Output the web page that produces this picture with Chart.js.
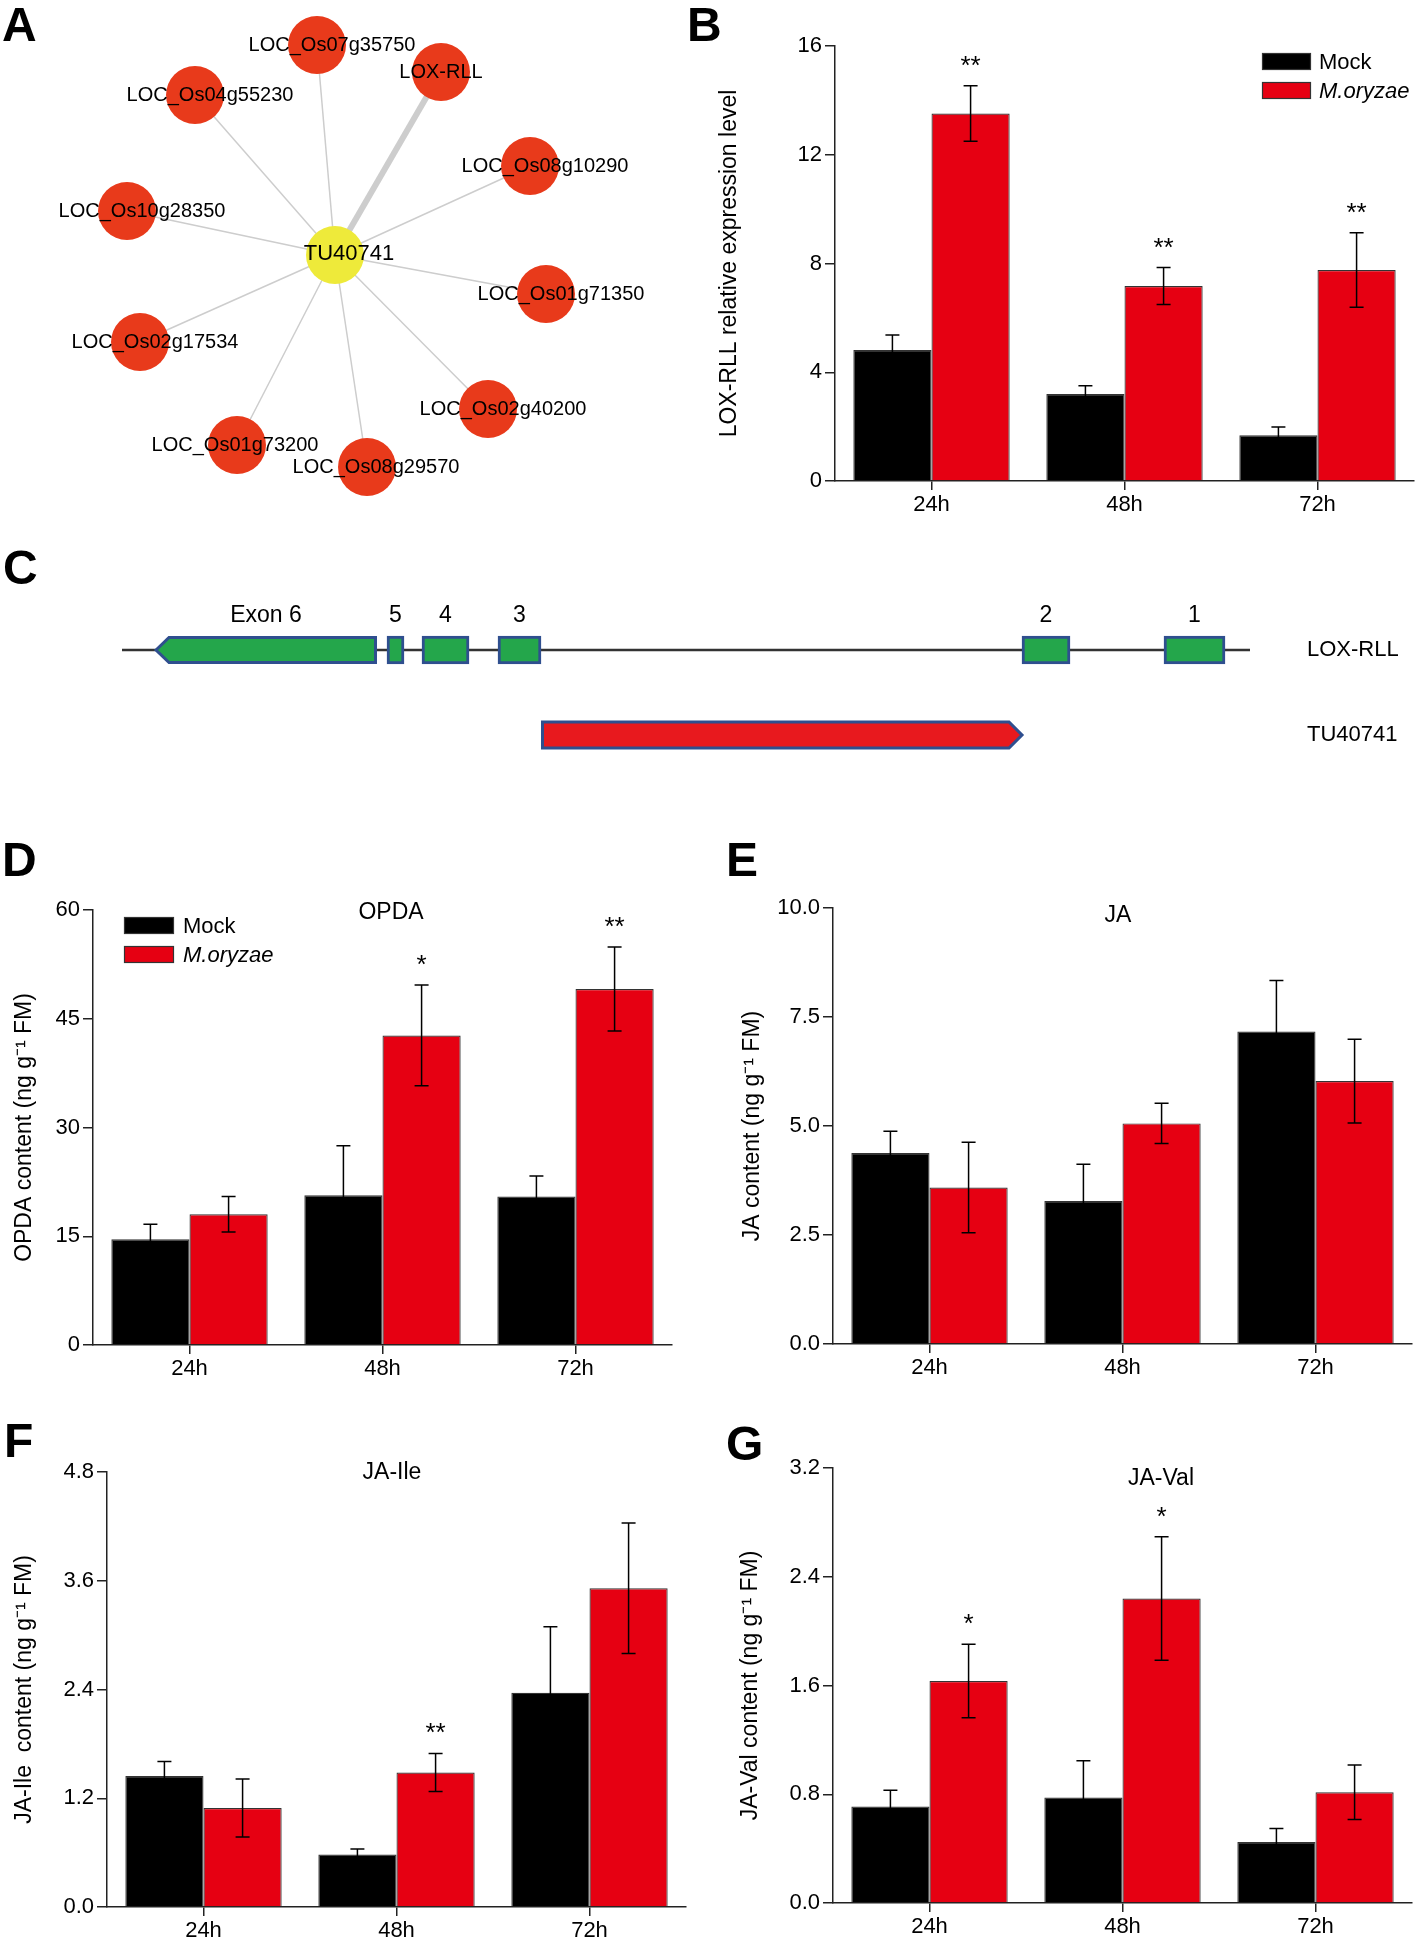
<!DOCTYPE html>
<html><head><meta charset="utf-8">
<script src="https://cdn.jsdelivr.net/npm/chart.js@4.4.0/dist/chart.umd.min.js"></script>
<style>
html,body{margin:0;padding:0;background:#fff;}
#page{position:relative;width:1418px;height:1940px;overflow:hidden;background:#fff;}
canvas{position:absolute;}
.tag{position:absolute;font-family:'Liberation Sans',Arial,sans-serif;font-weight:bold;font-size:48px;line-height:48px;color:#000;}
</style></head><body><div id="page">
<canvas id="cA"></canvas>
<canvas id="cB"></canvas>
<canvas id="cC"></canvas>
<canvas id="cD"></canvas>
<canvas id="cE"></canvas>
<canvas id="cF"></canvas>
<canvas id="cG"></canvas>
<div class="tag" style="left:2px;top:1px">A</div>
<div class="tag" style="left:687px;top:1px">B</div>
<div class="tag" style="left:3px;top:544px">C</div>
<div class="tag" style="left:2px;top:836px">D</div>
<div class="tag" style="left:726px;top:836px">E</div>
<div class="tag" style="left:4px;top:1417px">F</div>
<div class="tag" style="left:726px;top:1420px">G</div>
</div>
<script>
// ---------------- DATA ----------------
// Panel A: co-expression network (layout coordinates)
const hubName = 'TU40741';
const hubX = 335, hubY = 255;
const nodeNames = ['LOC_Os07g35750','LOX-RLL','LOC_Os04g55230','LOC_Os08g10290','LOC_Os10g28350','LOC_Os01g71350','LOC_Os02g17534','LOC_Os02g40200','LOC_Os01g73200','LOC_Os08g29570'];
const nodeX = [317, 441, 195, 530, 127, 546, 140, 488, 237, 367];
const nodeY = [45, 72, 95, 166, 211, 294, 342, 409, 445, 467];
const edgeWeight = [1, 4, 1, 1, 1, 1, 1, 1, 1, 1];

// Panel C: gene structure (relative genomic units)
const geneRows = ['LOX-RLL', 'TU40741'];
const locusSpan = [0, 1128];
const exonNames = ['Exon 6', '5', '4', '3', '2', '1'];
const exonStart = [33, 265, 300, 376, 900, 1042];
const exonEnd   = [255, 282, 347, 419, 948, 1103];
const lncRange  = [419, 901];

// Bar panels
const timepoints = ['24h', '48h', '72h'];
const seriesNames = ['Mock', 'M.oryzae'];

const loxMock = [4.82, 3.20, 1.68];
const loxMockErr = [0.55, 0.30, 0.31];
const loxMo = [13.52, 7.17, 7.76];
const loxMoErr = [1.02, 0.68, 1.37];
const loxSig = ['**', '**', '**'];
const loxTicks = [0, 4, 8, 12, 16];

const opdaMock = [14.57, 20.65, 20.5];
const opdaMockErr = [2.1, 6.85, 2.8];
const opdaMo = [18.03, 42.7, 49.1];
const opdaMoErr = [2.45, 6.95, 5.8];
const opdaSig = ['', '*', '**'];
const opdaTicks = [0, 15, 30, 45, 60];

const jaMock = [4.38, 3.28, 7.17];
const jaMockErr = [0.5, 0.84, 1.17];
const jaMo = [3.59, 5.06, 6.03];
const jaMoErr = [1.04, 0.46, 0.96];
const jaSig = ['', '', ''];
const jaTicks = [0, 2.5, 5, 7.5, 10];

const ileMock = [1.446, 0.579, 2.363];
const ileMockErr = [0.16, 0.06, 0.73];
const ileMo = [1.093, 1.484, 3.516];
const ileMoErr = [0.32, 0.21, 0.72];
const ileSig = ['', '**', ''];
const ileTicks = [0, 1.2, 2.4, 3.6, 4.8];

const valMock = [0.709, 0.777, 0.448];
const valMockErr = [0.12, 0.27, 0.10];
const valMo = [1.633, 2.24, 0.815];
const valMoErr = [0.27, 0.455, 0.2];
const valSig = ['*', '*', ''];
const valTicks = [0, 0.8, 1.6, 2.4, 3.2];

// ---------------- STYLE / HELPERS ----------------
const FONT = "'Liberation Sans', Arial, Helvetica, sans-serif";
Chart.defaults.font.family = FONT;
Chart.defaults.color = '#000';
const RED = '#E60012', BLACK = '#000000';

function place(id, x, y, w, h) {
  const c = document.getElementById(id);
  c.width = w; c.height = h;
  c.style.left = x + 'px'; c.style.top = y + 'px';
  return c;
}

// ---------- Panel A ----------
const netLabels = {
  id: 'netLabels',
  afterDatasetsDraw(chart, args, opts) {
    const {ctx, scales: {x, y}} = chart;
    ctx.save();
    ctx.fillStyle = '#000'; ctx.textAlign = 'center'; ctx.textBaseline = 'middle';
    ctx.font = '20px ' + FONT;
    nodeNames.forEach((n, i) => {
      const dx = (n in opts.dx) ? opts.dx[n] : opts.defaultDx;
      ctx.fillText(n, x.getPixelForValue(nodeX[i]) + dx, y.getPixelForValue(nodeY[i]));
    });
    ctx.font = '22px ' + FONT;
    ctx.fillText(hubName, x.getPixelForValue(hubX) + 14, y.getPixelForValue(hubY) - 1);
    ctx.restore();
  }
};
(function () {
  const c = place('cA', 0, 0, 700, 520);
  const edges = nodeNames.map((n, i) => ({
    label: 'edge ' + n, type: 'line', showLine: true,
    data: [{x: hubX, y: hubY}, {x: nodeX[i], y: nodeY[i]}],
    borderColor: '#cdcdcd', borderWidth: 1.5 * edgeWeight[i], pointRadius: 0, order: 3, clip: false
  }));
  new Chart(c, {
    type: 'scatter',
    data: {datasets: [
      {label: 'hub', data: [{x: hubX, y: hubY}], pointRadius: 29, backgroundColor: '#EEEA3A', borderWidth: 0, pointBorderWidth: 0, order: 0, clip: false},
      {label: 'genes', data: nodeX.map((x, i) => ({x, y: nodeY[i]})), pointRadius: 29, backgroundColor: '#E83A1B', borderWidth: 0, pointBorderWidth: 0, order: 1, clip: false},
      ...edges
    ]},
    options: {
      responsive: false, animation: false, devicePixelRatio: 1, events: [],
      layout: {padding: 0, autoPadding: false},
      plugins: {legend: {display: false}, tooltip: {enabled: false},
        netLabels: {defaultDx: 15, dx: {'LOX-RLL': 0, 'LOC_Os01g73200': -2, 'LOC_Os08g29570': 9}}},
      scales: {
        x: {type: 'linear', min: 0, max: 700, display: false},
        y: {type: 'linear', min: 0, max: 520, reverse: true, display: false}
      }
    },
    plugins: [netLabels]
  });
})();

// ---------- Panel C ----------
const genePlugin = {
  id: 'gene',
  afterDatasetsDraw(chart, args, opts) {
    const ctx = chart.ctx;
    chart.data.datasets.forEach((ds, di) => {
      const meta = chart.getDatasetMeta(di);
      meta.data.forEach((el, j) => {
        if (ds.data[j] == null) return;
        const p = el.getProps(['x', 'y', 'base', 'height'], true);
        const x0 = Math.min(p.x, p.base), x1 = Math.max(p.x, p.base);
        const yc = p.y, h = p.height / 2 - 1.5;
        if (ds.arrow) {
          const t = opts.tip;
          ctx.save();
          ctx.beginPath();
          if (ds.arrow === 'left') {
            ctx.moveTo(x0 + 1, yc); ctx.lineTo(x0 + t, yc - h); ctx.lineTo(x1 - 1.5, yc - h);
            ctx.lineTo(x1 - 1.5, yc + h); ctx.lineTo(x0 + t, yc + h);
          } else {
            ctx.moveTo(x0 + 1.5, yc - h); ctx.lineTo(x1 - t, yc - h); ctx.lineTo(x1 - 1, yc);
            ctx.lineTo(x1 - t, yc + h); ctx.lineTo(x0 + 1.5, yc + h);
          }
          ctx.closePath();
          ctx.fillStyle = ds.shapeFill; ctx.fill();
          ctx.lineWidth = 3; ctx.strokeStyle = ds.shapeEdge; ctx.lineJoin = 'miter'; ctx.stroke();
          ctx.restore();
        }
        if (ds.tag) {
          ctx.save();
          ctx.fillStyle = '#000'; ctx.font = '23px ' + FONT; ctx.textAlign = 'center'; ctx.textBaseline = 'middle';
          ctx.fillText(ds.tag, (x0 + x1) / 2, yc - opts.labelGap);
          ctx.restore();
        }
      });
    });
  }
};
(function () {
  const c = place('cC', 0, 540, 1418, 250);
  const GREEN = '#24A64B', EDGE = '#2F4F8F';
  const ds = [];
  ds.push({label: 'locus', data: [locusSpan, null], backgroundColor: '#333', borderWidth: 0, barThickness: 2, grouped: false, order: 10});
  exonNames.forEach((n, i) => {
    const isArrow = i === 0;
    ds.push({
      label: n, tag: n, data: [[exonStart[i], exonEnd[i]], null], grouped: false, barThickness: 28, order: 0,
      backgroundColor: isArrow ? 'rgba(0,0,0,0)' : GREEN, borderColor: EDGE, borderWidth: isArrow ? 0 : 3, borderSkipped: false,
      arrow: isArrow ? 'left' : null, shapeFill: GREEN, shapeEdge: EDGE
    });
  });
  ds.push({label: 'TU40741', data: [null, lncRange], grouped: false, barThickness: 29, order: 0,
    backgroundColor: 'rgba(0,0,0,0)', borderWidth: 0, arrow: 'right', shapeFill: '#E8191E', shapeEdge: EDGE});
  new Chart(c, {
    type: 'bar',
    data: {labels: geneRows, datasets: ds},
    options: {
      indexAxis: 'y', responsive: false, animation: false, devicePixelRatio: 1, events: [],
      layout: {padding: {left: 122, top: 67.5, bottom: 12.5, right: 0}, autoPadding: false},
      plugins: {legend: {display: false}, tooltip: {enabled: false}, gene: {tip: 14, labelGap: 34}},
      scales: {
        x: {type: 'linear', min: locusSpan[0], max: locusSpan[1], display: false},
        y: {type: 'category', position: 'right', grid: {display: false, drawTicks: false}, border: {display: false},
            ticks: {padding: 57, font: {size: 22}, color: '#000'},
            afterFit: s => { s.width = 168; s.paddingTop = 0; s.paddingBottom = 0; }}
      }
    },
    plugins: [genePlugin]
  });
})();

// ---------- Bar panels ----------
const errPlugin = {
  id: 'errsig',
  afterDatasetsDraw(chart) {
    const ctx = chart.ctx, ys = chart.scales.y;
    chart.data.datasets.forEach((ds, di) => {
      const meta = chart.getDatasetMeta(di);
      meta.data.forEach((bar, j) => {
        const v = ds.data[j], e = ds.err[j], x = bar.x;
        const yt = ys.getPixelForValue(v + e), yb = ys.getPixelForValue(v - e);
        ctx.save();
        ctx.strokeStyle = '#000'; ctx.lineWidth = 1.5;
        ctx.beginPath();
        ctx.moveTo(x, yb); ctx.lineTo(x, yt);
        ctx.moveTo(x - 7, yt); ctx.lineTo(x + 7, yt);
        ctx.moveTo(x - 7, yb); ctx.lineTo(x + 7, yb);
        ctx.stroke();
        if (ds.sig && ds.sig[j]) {
          ctx.fillStyle = '#000'; ctx.font = '26px ' + FONT; ctx.textAlign = 'center'; ctx.textBaseline = 'alphabetic';
          ctx.fillText(ds.sig[j], x, yt - 12);
        }
        ctx.restore();
      });
    });
  }
};
const textPlugin = {
  id: 'panelText',
  afterDraw(chart, args, opts) {
    const ctx = chart.ctx;
    ctx.save();
    if (opts.title) {
      ctx.fillStyle = '#000'; ctx.font = '23px ' + FONT; ctx.textAlign = 'center'; ctx.textBaseline = 'middle';
      ctx.fillText(opts.title.text, opts.title.x, opts.title.y);
    }
    if (opts.legend) {
      const L = opts.legend;
      chart.data.datasets.forEach((ds, i) => {
        const by = L.y + i * L.dy;
        ctx.fillStyle = ds.backgroundColor; ctx.fillRect(L.x, by, L.w, L.h);
        ctx.strokeStyle = '#333'; ctx.lineWidth = 1.2; ctx.strokeRect(L.x + 0.5, by + 0.5, L.w - 1, L.h - 1);
        ctx.fillStyle = '#000'; ctx.textAlign = 'left'; ctx.textBaseline = 'middle';
        ctx.font = (i === 1 ? 'italic ' : '') + '22px ' + FONT;
        ctx.fillText(ds.label, L.x + L.tx, by + L.h / 2 + 1);
      });
    }
    ctx.restore();
  }
};

function barPanel(id, box, area, d) {
  const c = place(id, box.x, box.y, box.w, box.h);
  return new Chart(c, {
    type: 'bar',
    data: {
      labels: timepoints,
      datasets: [
        {label: seriesNames[0], data: d.mock, err: d.mockErr, backgroundColor: BLACK, borderColor: '#333', borderWidth: 1.2},
        {label: seriesNames[1], data: d.mo, err: d.moErr, sig: d.sig, backgroundColor: RED, borderColor: '#333', borderWidth: 1.2}
      ]
    },
    options: {
      responsive: false, animation: false, devicePixelRatio: 1, events: [],
      layout: {padding: {left: 0, top: area.T - box.y, right: box.x + box.w - area.R, bottom: 0}},
      datasets: {bar: {categoryPercentage: 0.81, barPercentage: 1.0}},
      plugins: {legend: {display: false}, tooltip: {enabled: false},
        panelText: {title: d.title || null, legend: d.legend || null}},
      scales: {
        x: {
          grid: {display: true, drawOnChartArea: false, drawTicks: true, tickLength: 9, offset: false, color: '#222', lineWidth: 1.5},
          border: {display: true, color: '#222', width: 1.5},
          ticks: {font: {size: 22}, color: '#000', padding: 2},
          afterFit: s => { s.height = box.y + box.h - area.B; }
        },
        y: {
          min: d.ticks[0], max: d.ticks[d.ticks.length - 1],
          afterBuildTicks: s => { s.ticks = d.ticks.map(v => ({value: v})); },
          grid: {display: true, drawOnChartArea: false, drawTicks: true, tickLength: 10, color: '#222', lineWidth: 1.5},
          border: {display: true, color: '#222', width: 1.5},
          ticks: {font: {size: 22}, color: '#000', padding: 3, callback: v => Number(v).toFixed(d.dec)},
          title: {display: true, text: d.yTitle, font: {size: 23}, color: '#000', padding: {top: d.tpad, bottom: 0}},
          afterFit: s => { s.width = area.L - box.x; }
        }
      }
    },
    plugins: [errPlugin, textPlugin]
  });
}

barPanel('cB', {x: 700, y: 0, w: 718, h: 520}, {L: 835, T: 46, R: 1414, B: 481}, {
  mock: loxMock, mockErr: loxMockErr, mo: loxMo, moErr: loxMoErr, sig: loxSig, ticks: loxTicks, dec: 0,
  yTitle: 'LOX-RLL relative expression level', tpad: 16,
  legend: {x: 562, y: 53, dy: 29, w: 49, h: 17, tx: 57}
});
barPanel('cD', {x: 0, y: 840, w: 720, h: 555}, {L: 93, T: 910, R: 672, B: 1345}, {
  mock: opdaMock, mockErr: opdaMockErr, mo: opdaMo, moErr: opdaMoErr, sig: opdaSig, ticks: opdaTicks, dec: 0,
  yTitle: 'OPDA content (ng g\u207B\u00B9 FM)', tpad: 11,
  title: {text: 'OPDA', x: 391, y: 73},
  legend: {x: 124, y: 77, dy: 29, w: 50, h: 17, tx: 59}
});
barPanel('cE', {x: 720, y: 840, w: 698, h: 555}, {L: 833, T: 908, R: 1412, B: 1344}, {
  mock: jaMock, mockErr: jaMockErr, mo: jaMo, moErr: jaMoErr, sig: jaSig, ticks: jaTicks, dec: 1,
  yTitle: 'JA content (ng g\u207B\u00B9 FM)', tpad: 19,
  title: {text: 'JA', x: 398, y: 76}
});
barPanel('cF', {x: 0, y: 1400, w: 720, h: 540}, {L: 107, T: 1472, R: 686, B: 1907}, {
  mock: ileMock, mockErr: ileMockErr, mo: ileMo, moErr: ileMoErr, sig: ileSig, ticks: ileTicks, dec: 1,
  yTitle: 'JA-Ile  content (ng g\u207B\u00B9 FM)', tpad: 11,
  title: {text: 'JA-Ile', x: 392, y: 73}
});
barPanel('cG', {x: 720, y: 1400, w: 698, h: 540}, {L: 833, T: 1468, R: 1412, B: 1903}, {
  mock: valMock, mockErr: valMockErr, mo: valMo, moErr: valMoErr, sig: valSig, ticks: valTicks, dec: 1,
  yTitle: 'JA-Val content (ng g\u207B\u00B9 FM)', tpad: 17,
  title: {text: 'JA-Val', x: 441, y: 79}
});
</script></body></html>
